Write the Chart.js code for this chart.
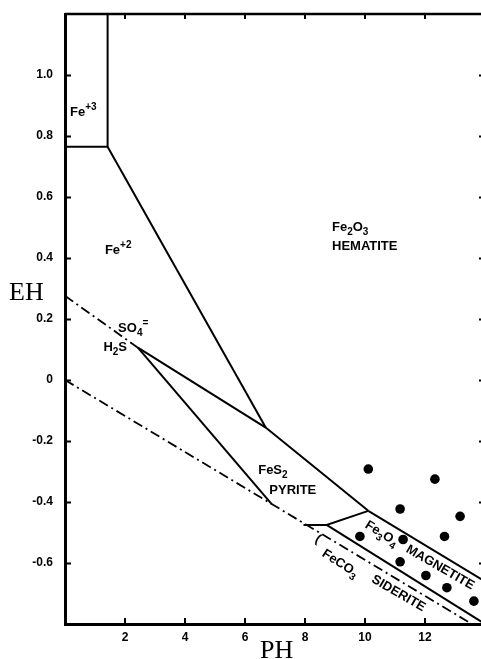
<!DOCTYPE html>
<html>
<head>
<meta charset="utf-8">
<script src="https://cdn.jsdelivr.net/npm/chart.js@4.4.1/dist/chart.umd.min.js"></script>
<style>
  html, body { margin: 0; padding: 0; background: #fff; overflow: hidden; width: 481px; height: 659px; }
  canvas { display: block; }
</style>
</head>
<body>
<canvas id="eh" width="500" height="659"></canvas>
<script>
// Eh–pH stability fields of iron minerals, with measured samples

const xTicks = [2, 4, 6, 8, 10, 12];
const xTickLabels = ['2', '4', '6', '8', '10', '12'];
const yTicks = [1.0, 0.8, 0.6, 0.4, 0.2, 0, -0.2, -0.4, -0.6];
const yTickLabels = ['1.0', '0.8', '0.6', '0.4', '0.2', '0', '-0.2', '-0.4', '-0.6'];

// field boundaries as [pH, Eh] vertices
const fe3Fe2 = [[1.42, 1.2], [1.42, 0.765], [0, 0.765]];
const fe2Hematite = [[1.42, 0.765], [6.69, -0.156]];
const pyriteUpper = [[2.43, 0.106], [6.69, -0.156], [10.11, -0.429]];
const pyriteLower = [[2.43, 0.106], [6.89, -0.407]];
const magnetiteUpper = [[10.11, -0.429], [14, -0.66]];
const pyriteMagnetite = [[7.95, -0.475], [8.72, -0.475], [10.11, -0.429]];
const magnetiteSiderite = [[8.72, -0.475], [14, -0.8]];
const sulfateSulfide = [[0, 0.276], [2.43, 0.106]];
const waterLower = [[0, 0], [13.56, -0.8]];

// measured samples
const samplePH = [10.11, 12.33, 11.17, 13.17, 9.83, 11.27, 12.65, 11.17, 12.03, 12.73, 13.63];
const sampleEh = [-0.292, -0.325, -0.423, -0.447, -0.513, -0.523, -0.513, -0.596, -0.641, -0.681, -0.725];

const pts = arr => arr.map(([x, y]) => ({ x, y }));

function solid(arr) {
  return { data: pts(arr), showLine: true, borderColor: '#000', borderWidth: 2, pointRadius: 0, fill: false, tension: 0 };
}
function dashDot(arr) {
  return { data: pts(arr), showLine: true, borderColor: '#000', borderWidth: 1.8, borderDash: [10, 4, 2, 4], pointRadius: 0, fill: false, tension: 0 };
}

// field names; rich text pieces: [text, 'sub'|'sup'|undefined]
const fieldLabels = [
  { parts: [['Fe'], ['+3', 'sup']], at: [0.17, 0.864] },
  { parts: [['Fe'], ['+2', 'sup']], at: [1.33, 0.414] },
  { parts: [['Fe'], ['2', 'sub'], ['O'], ['3', 'sub']], at: [8.9, 0.49] },
  { parts: [['HEMATITE']], at: [8.9, 0.427] },
  { parts: [['SO'], ['4', 'sub'], ['=', 'sup']], at: [1.77, 0.158] },
  { parts: [['H'], ['2', 'sub'], ['S']], at: [1.28, 0.096] },
  { parts: [['FeS'], ['2', 'sub']], at: [6.44, -0.308] },
  { parts: [['PYRITE']], at: [6.81, -0.373] },
  { parts: [['Fe'], ['3', 'sub'], ['O'], ['4', 'sub']], at: [10.57, -0.501], angle: 32, center: true },
  { parts: [['MAGNETITE']], at: [12.52, -0.612], angle: 30, center: true },
  { parts: [['(']], at: [8.45, -0.519], angle: 30, center: true },
  { parts: [['FeCO'], ['3', 'sub']], at: [9.19, -0.599], angle: 33, center: true },
  { parts: [['SIDERITE']], at: [11.13, -0.697], angle: 30, center: true }
];

const FONT = '"Liberation Sans", Arial, sans-serif';
function fontFor(kind) {
  return kind ? 'bold 10px ' + FONT : 'bold 13px ' + FONT;
}

function drawRich(ctx, parts, x, y, angle, center) {
  ctx.save();
  ctx.translate(x, y);
  ctx.rotate((angle || 0) * Math.PI / 180);
  ctx.textBaseline = 'alphabetic';
  ctx.textAlign = 'left';
  let w = 0;
  parts.forEach(p => { ctx.font = fontFor(p[1]); w += ctx.measureText(p[0]).width; });
  let cx = center ? -w / 2 : 0;
  const base = center ? 4.6 : 0;
  parts.forEach(p => {
    ctx.font = fontFor(p[1]);
    const dy = p[1] === 'sub' ? 4 : p[1] === 'sup' ? -6 : 0;
    ctx.fillText(p[0], cx, base + dy);
    cx += ctx.measureText(p[0]).width;
  });
  ctx.restore();
}

const diagramFrame = {
  id: 'diagramFrame',
  afterDatasetsDraw(chart) {
    const { ctx, chartArea: a, scales: { x, y } } = chart;
    ctx.save();
    ctx.strokeStyle = '#000';
    ctx.lineCap = 'butt';
    // top and right edges
    ctx.lineWidth = 2.5;
    ctx.beginPath();
    ctx.moveTo(a.left, a.top); ctx.lineTo(a.right, a.top);
    ctx.moveTo(a.right, a.top); ctx.lineTo(a.right, a.bottom);
    ctx.stroke();
    // inward tick marks on all four sides
    ctx.lineWidth = 2;
    ctx.beginPath();
    yTicks.forEach(v => {
      const py = Math.round(y.getPixelForValue(v)) + 0.5;
      ctx.moveTo(a.left, py); ctx.lineTo(a.left + 6, py);
      ctx.moveTo(a.right, py); ctx.lineTo(a.right - 6, py);
    });
    xTicks.forEach(v => {
      const px = Math.round(x.getPixelForValue(v));
      ctx.moveTo(px, a.bottom); ctx.lineTo(px, a.bottom - 6);
      ctx.moveTo(px, a.top); ctx.lineTo(px, a.top + 5);
    });
    ctx.stroke();
    // field names
    ctx.fillStyle = '#000';
    fieldLabels.forEach(l => {
      drawRich(ctx, l.parts, x.getPixelForValue(l.at[0]), y.getPixelForValue(l.at[1]), l.angle, l.center);
    });
    // axis titles
    ctx.font = '26px "Liberation Serif", "Times New Roman", serif';
    ctx.textAlign = 'left';
    ctx.textBaseline = 'alphabetic';
    ctx.fillText('EH', 9, 300);
    ctx.fillText('PH', x.getPixelForValue(6.5), 658);
    ctx.restore();
  }
};

new Chart(document.getElementById('eh'), {
  type: 'scatter',
  data: {
    datasets: [
      solid(fe3Fe2),
      solid(fe2Hematite),
      solid(pyriteUpper),
      solid(pyriteLower),
      solid(magnetiteUpper),
      solid(pyriteMagnetite),
      solid(magnetiteSiderite),
      dashDot(sulfateSulfide),
      dashDot(waterLower),
      {
        data: samplePH.map((p, i) => ({ x: p, y: sampleEh[i] })),
        showLine: false,
        pointRadius: 4.8,
        pointBackgroundColor: '#000',
        pointBorderColor: '#000',
        pointBorderWidth: 0
      }
    ]
  },
  options: {
    responsive: false,
    devicePixelRatio: 1,
    animation: false,
    events: [],
    layout: { padding: { top: 14, right: 15, left: 0, bottom: 0 } },
    plugins: { legend: { display: false }, tooltip: { enabled: false } },
    scales: {
      x: {
        type: 'linear',
        min: 0,
        max: 14,
        afterFit: s => { s.height = 35; s.paddingLeft = 0; s.paddingRight = 0; },
        afterBuildTicks: s => { s.ticks = xTicks.map(v => ({ value: v })); },
        grid: { display: false, drawTicks: false },
        border: { display: true, color: '#000', width: 3 },
        ticks: {
          padding: 6,
          color: '#000',
          font: { family: FONT, size: 12, weight: 'bold' },
          callback: v => xTickLabels[xTicks.indexOf(v)] ?? ''
        }
      },
      y: {
        type: 'linear',
        min: -0.8,
        max: 1.2,
        afterFit: s => { s.width = 65; s.paddingTop = 0; s.paddingBottom = 0; },
        afterBuildTicks: s => { s.ticks = yTicks.map(v => ({ value: v })); },
        grid: { display: false, drawTicks: false },
        border: { display: true, color: '#000', width: 3 },
        ticks: {
          padding: 12,
          color: '#000',
          font: { family: FONT, size: 12, weight: 'bold' },
          callback: v => yTickLabels[yTicks.indexOf(v)] ?? ''
        }
      }
    }
  },
  plugins: [diagramFrame]
});
</script>
</body>
</html>
